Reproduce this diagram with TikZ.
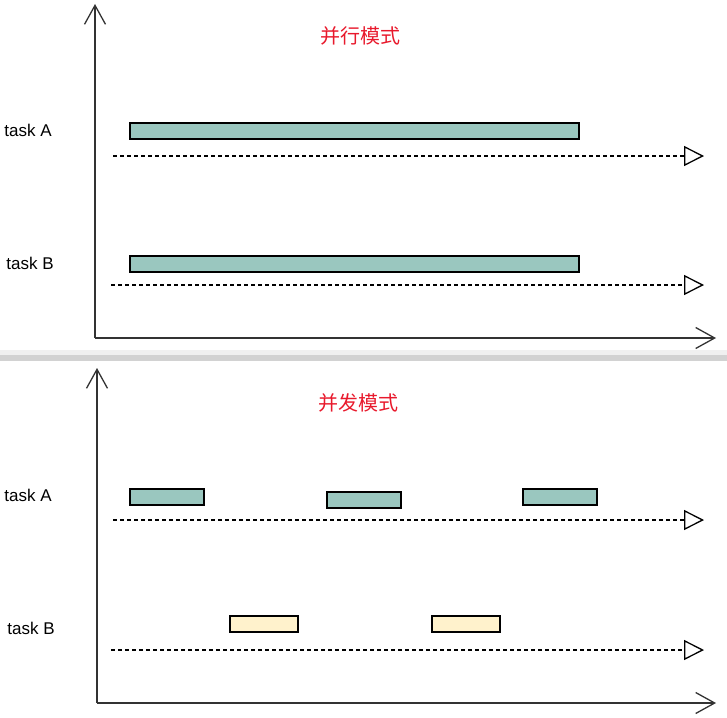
\documentclass[tikz,border=0pt]{standalone}
\usepackage{fontspec}
\setmainfont{Liberation Sans}
\newfontfamily\cjkfont{Noto Sans CJK SC}
\usetikzlibrary{arrows.meta}
\definecolor{barteal}{HTML}{9AC7BF}
\definecolor{baryellow}{HTML}{FFF2CC}
\definecolor{titlered}{HTML}{E8192C}
\definecolor{axisgray}{HTML}{333333}
\tikzset{
  x=1pt,y=-1pt,
  axisline/.style={draw=axisgray,line width=1.3pt,-{Straight Barb[length=19pt,width=21pt,line width=1.3pt]}},
  timeline/.style={draw=black,line width=1.2pt,dash pattern=on 4pt off 3pt,-{Triangle[open,length=20pt,width=20pt,line width=1.3pt,fill=white]}},
  tasklabel/.style={font=\fontsize{17}{20}\selectfont,anchor=center,inner sep=0pt},
  title/.style={font=\cjkfont\fontsize{20}{24}\selectfont,text=titlered,anchor=center,inner sep=0pt},
  bar/.style={draw=black,line width=1.5pt,minimum height=16pt,inner sep=0pt,anchor=north west},
  tealbar/.style={bar,fill=barteal},
  yellowbar/.style={bar,fill=baryellow},
}
\begin{document}
\begin{tikzpicture}
\useasboundingbox (0,0) rectangle (727,717);
% separator
\fill[gray!12] (0,350) rectangle (727,355);
\fill[gray!35] (0,355) rectangle (727,361);

% ---------- top panel ----------
\coordinate (ta0) at (95,338);
\coordinate (tay) at (95,4);
\coordinate (tax) at (716,338);
\draw[axisline] (ta0) -- (tay);
\draw[axisline] (ta0) -- (tax);
\node[title] (t1) at (360,36) {并行模式};

\node[tasklabel] (la1) at (28,130) {task A};
\node[tealbar,minimum width=449pt,minimum height=16pt] (pa) at (129,122) {};
\coordinate (da1s) at (113,156);
\coordinate (da1e) at (704,156);
\draw[timeline] (da1s) -- (da1e);

\node[tasklabel] (lb1) at (30,263) {task B};
\node[tealbar,minimum width=449pt,minimum height=16pt] (pb) at (129,255) {};
\coordinate (db1s) at (111,285);
\coordinate (db1e) at (704,285);
\draw[timeline] (db1s) -- (db1e);

% ---------- bottom panel ----------
\coordinate (ba0) at (97,703);
\coordinate (bay) at (97,368);
\coordinate (bax) at (716,703);
\draw[axisline] (ba0) -- (bay);
\draw[axisline] (ba0) -- (bax);
\node[title] (t2) at (358,403) {并发模式};

\node[tasklabel] (la2) at (28,495) {task A};
\node[tealbar,minimum width=74pt,minimum height=16pt] (ca1) at (129,488) {};
\node[tealbar,minimum width=74pt,minimum height=16pt] (ca2) at (326,491) {};
\node[tealbar,minimum width=74pt,minimum height=16pt] (ca3) at (522,488) {};
\coordinate (da2s) at (113,520);
\coordinate (da2e) at (704,520);
\draw[timeline] (da2s) -- (da2e);

\node[tasklabel] (lb2) at (31,628) {task B};
\node[yellowbar,minimum width=68pt,minimum height=16pt] (cb1) at (229,615) {};
\node[yellowbar,minimum width=68pt,minimum height=16pt] (cb2) at (431,615) {};
\coordinate (db2s) at (111,650);
\coordinate (db2e) at (704,650);
\draw[timeline] (db2s) -- (db2e);
\end{tikzpicture}
\end{document}
